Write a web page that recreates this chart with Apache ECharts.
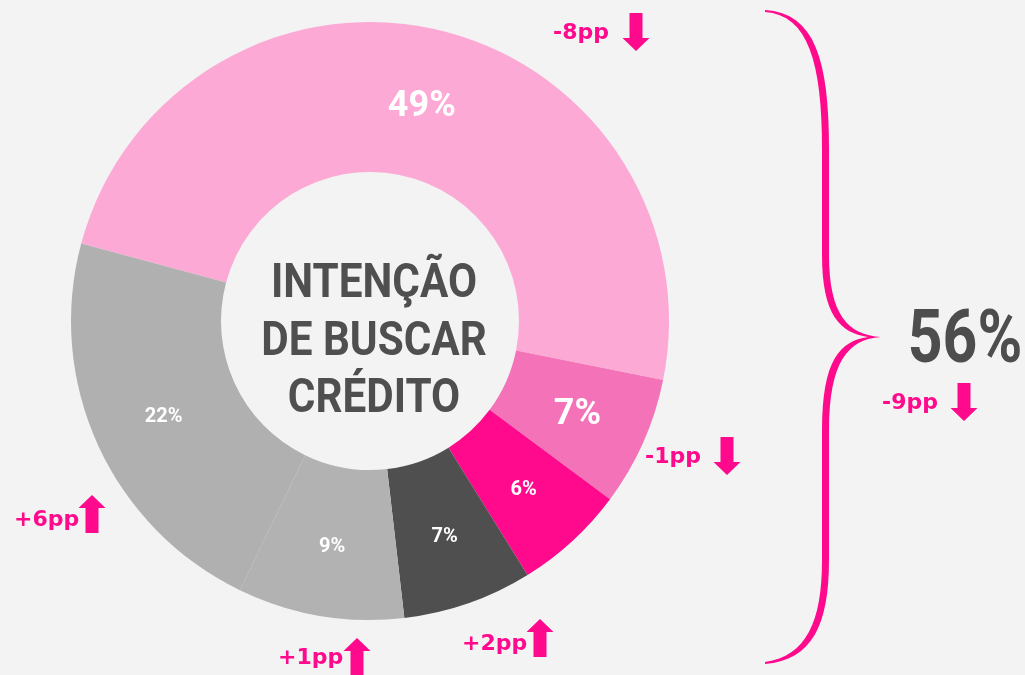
<!DOCTYPE html>
<html>
<head>
<meta charset="utf-8">
<title>Intenção de buscar crédito</title>
<script src="https://cdn.jsdelivr.net/npm/echarts@6/dist/echarts.min.js"></script>
<style>
  html, body { margin: 0; padding: 0; background: #f3f3f3; }
  #chart { width: 1025px; height: 675px; }
</style>
</head>
<body>
<div id="chart"></div>
<script>
// data
const shares = [49, 7, 6, 7, 9, 22];
const sliceColors = ["#fda9d6", "#f472b8", "#ff0a8c", "#4f4f4f", "#b2b2b2", "#b0b0b0"];
const labelSizes = [36, 36, 20, 20, 20, 20];
const centerTitle = ["INTENÇÃO", "DE BUSCAR", "CRÉDITO"];
const deltaLabels = ["-8pp", "-1pp", "+2pp", "+1pp", "+6pp"];
const deltaUp = [false, false, true, true, true];
const groupTotal = "56%";
const groupDelta = "-9pp";

const PINK = "#ff0a8c";
const chart = echarts.init(document.getElementById("chart"));

// where each change note sits: text left x, text mid y, arrow centre
const deltaPos = [
  [553, 33, 636, 32],
  [645, 457, 727, 456],
  [462, 644, 540, 638],
  [278, 658, 357, 657],
  [14, 520, 92, 514]
];

const arrow = (cx, cy, up) => {
  const s = up ? -1 : 1;
  const pts = [
    [-6.5, -19], [6.5, -19], [6.5, 6], [13.5, 6],
    [0, 19], [-13.5, 6], [-6.5, 6]
  ].map(p => [cx + p[0], cy + s * p[1]]);
  return { type: "polygon", silent: true, shape: { points: pts }, style: { fill: PINK } };
};

const note = (txt, x, y) => ({
  type: "text", silent: true, x: x, y: y,
  style: {
    text: txt, fill: PINK, font: "bold 22px 'DejaVu Sans'",
    textAlign: "left", textVerticalAlign: "middle", align: "left", verticalAlign: "middle"
  }
});

// turn a list of cubic segments into polygon points
const sampleCurves = (start, segs) => {
  const pts = [start];
  let p0 = start;
  segs.forEach(s => {
    const [c1, c2, p3] = s;
    for (let k = 1; k <= 16; k++) {
      const t = k / 16, u = 1 - t;
      pts.push([
        u * u * u * p0[0] + 3 * u * u * t * c1[0] + 3 * u * t * t * c2[0] + t * t * t * p3[0],
        u * u * u * p0[1] + 3 * u * u * t * c1[1] + 3 * u * t * t * c2[1] + t * t * t * p3[1]
      ]);
    }
    p0 = p3;
  });
  return pts;
};

const line = (a, b) => [a, b, b];

const braceOuter = sampleCurves([765, 10], [
  [[815, 13], [829, 60], [829, 150]],
  line([829, 150], [829, 255]),
  [[829, 315], [848, 335], [881, 337]],
  [[848, 339], [829, 362], [829, 430]],
  line([829, 430], [829, 560]),
  [[829, 625], [812, 660], [765, 664]]
]);
const braceInner = sampleCurves([765, 662], [
  [[806, 656], [822, 622], [822, 560]],
  line([822, 560], [822, 430]),
  [[822, 360], [840, 341], [868, 337]],
  [[840, 333], [822, 315], [822, 255]],
  line([822, 255], [822, 150]),
  [[822, 62], [808, 15], [765, 12]]
]);

const graphics = [];

centerTitle.forEach((txt, i) => {
  graphics.push({
    type: "text", silent: true, x: 374, y: 285 + i * 57.5, scaleX: 0.88,
    style: {
      text: txt, fill: "#4f4f4f", font: "bold 48px Roboto",
      textAlign: "center", textVerticalAlign: "middle", align: "center", verticalAlign: "middle"
    }
  });
});

deltaLabels.forEach((txt, i) => {
  const p = deltaPos[i];
  graphics.push(note(txt, p[0], p[1]));
  graphics.push(arrow(p[2], p[3], deltaUp[i]));
});

// brace grouping the two pink slices
graphics.push({
  type: "polygon", silent: true,
  shape: { points: braceOuter.concat(braceInner) },
  style: { fill: PINK }
});

graphics.push({
  type: "text", silent: true, x: 965, y: 343, scaleX: 0.82,
  style: {
    text: groupTotal, fill: "#4d4d4d", font: "bold 74px Roboto",
    textAlign: "center", textVerticalAlign: "middle", align: "center", verticalAlign: "middle"
  }
});
graphics.push(note(groupDelta, 882, 403));
graphics.push(arrow(964, 402, false));

const option = {
  backgroundColor: "#f3f3f3",
  animation: false,
  series: [
    {
      type: "pie",
      center: [370, 321],
      radius: [149, 299],
      startAngle: 165,
      clockwise: true,
      silent: true,
      itemStyle: { borderWidth: 0 },
      label: {
        show: true,
        position: "inside",
        formatter: "{c}%",
        color: "#ffffff",
        fontFamily: "Roboto",
        fontWeight: "bold"
      },
      labelLine: { show: false },
      data: shares.map((v, i) => ({
        value: v,
        itemStyle: { color: sliceColors[i] },
        label: { fontSize: labelSizes[i], offset: i === 0 ? [0, 7] : [0, 2] }
      }))
    }
  ],
  graphic: graphics
};

chart.setOption(option);
</script>
</body>
</html>
